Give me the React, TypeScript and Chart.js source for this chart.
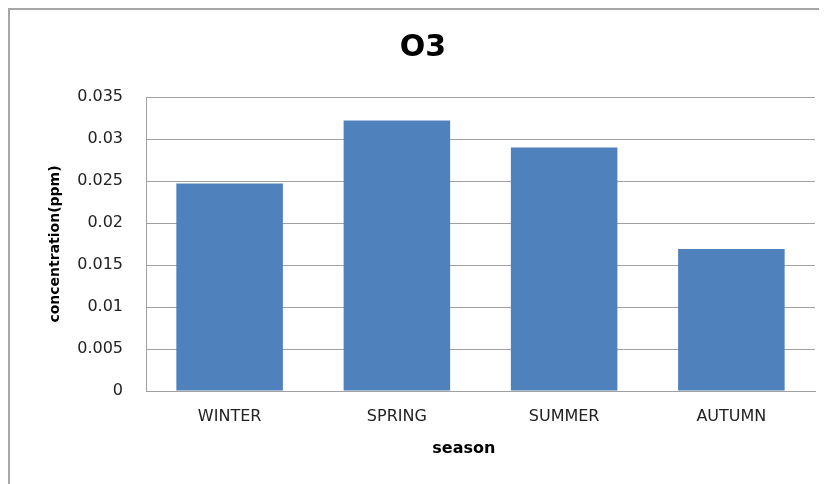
import React, { useEffect, useRef } from "react";
import { Chart, registerables } from "chart.js";

Chart.register(...registerables);

const categories = ["WINTER", "SPRING", "SUMMER", "AUTUMN"];
const o3Values = [0.0247, 0.0322, 0.029, 0.0169];
const yTickValues = [0, 0.005, 0.01, 0.015, 0.02, 0.025, 0.03, 0.035];
const chartTitle = "O3";
const xTitle = "season";
const yTitle = "concentration(ppm)";

const FONT = "'DejaVu Sans', 'Open Sans', sans-serif";

export default function App() {
  const ref = useRef<HTMLCanvasElement | null>(null);

  useEffect(() => {
    if (!ref.current) return;
    const chart = new Chart(ref.current, {
      type: "bar",
      data: {
        labels: categories,
        datasets: [
          {
            label: chartTitle,
            data: o3Values,
            backgroundColor: "#4f81bd",
            borderWidth: 0,
            categoryPercentage: 1,
            barPercentage: 0.637,
          },
        ],
      },
      options: {
        animation: false,
        responsive: false,
        devicePixelRatio: 1,
        layout: { padding: { left: 0, right: 12, top: 0, bottom: 0 } },
        plugins: {
          legend: { display: false },
          tooltip: { enabled: false },
          title: {
            display: true,
            text: "  " + chartTitle,
            color: "#000",
            font: { family: FONT, size: 30, weight: "bold" },
            padding: { top: 20, bottom: 31 },
          },
        },
        scales: {
          x: {
            grid: { display: false, drawTicks: false },
            border: { display: true, color: "#a0a0a0", width: 1 },
            ticks: {
              color: "#222",
              font: { family: FONT, size: 16 },
              padding: 16,
            },
            title: {
              display: true,
              text: xTitle + "      ",
              color: "#000",
              font: { family: FONT, size: 16, weight: "bold" },
              padding: { top: 0, bottom: 26 },
            },
            afterFit: (scale: any) => {
              scale.height = 93;
            },
          },
          y: {
            min: 0,
            max: 0.035,
            afterBuildTicks: (scale: any) => {
              scale.ticks = yTickValues.map((v) => ({ value: v }));
            },
            ticks: {
              color: "#222",
              font: { family: FONT, size: 16 },
              padding: 23,
              callback: (v: any) => String(Number(Number(v).toFixed(3))),
            },
            grid: { color: "#a0a0a0", lineWidth: 1, drawTicks: false },
            border: { display: true, color: "#a0a0a0", width: 1 },
            title: {
              display: true,
              text: yTitle,
              color: "#000",
              font: { family: FONT, size: 14, weight: "bold" },
              padding: { top: 37, bottom: 0 },
            },
            afterFit: (scale: any) => {
              scale.width = 136;
            },
          },
        },
      },
    });
    return () => chart.destroy();
  }, []);

  return (
    <div
      style={{
        width: 819,
        height: 476,
        boxSizing: "border-box",
        borderTop: "2px solid #a6a6a6",
        borderLeft: "2px solid #a6a6a6",
        background: "#fff",
      }}
    >
      <canvas ref={ref} width={817} height={474} style={{ display: "block" }} />
    </div>
  );
}
